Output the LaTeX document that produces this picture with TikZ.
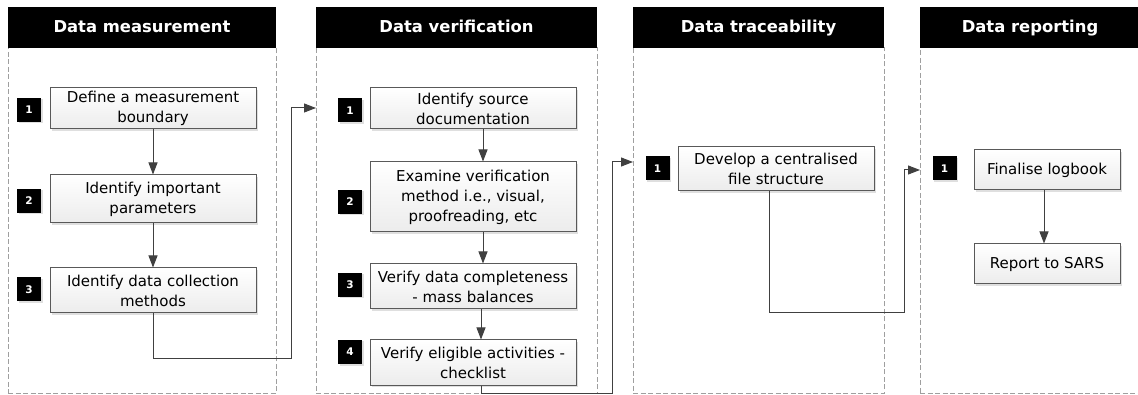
\documentclass[tikz,border=0pt]{standalone}
\usepackage{fontspec}
\setmainfont{DejaVu Sans}
\usetikzlibrary{arrows.meta,shadows}
\tikzset{
  lane/.style={draw=gray!75, line width=1pt, dash pattern=on 5pt off 2.5pt, minimum height=345pt, inner sep=0pt},
  head/.style={fill=black, text=white, font=\bfseries\fontsize{16.4}{20}\selectfont, minimum height=41pt, inner sep=0pt,
    text height=12pt, text depth=1pt},
  stepbox/.style={draw=black!65, line width=1pt, top color=white, bottom color=gray!15, align=center,
    font=\fontsize{15}{20}\selectfont, inner sep=0pt, minimum width=206pt,
    drop shadow={shadow xshift=2pt, shadow yshift=-2pt, opacity=0.25, fill=gray}},
  badge/.style={fill=black, text=white, font=\bfseries\fontsize{10.5}{10.5}\selectfont, minimum size=24pt, inner sep=0pt,
    drop shadow={shadow xshift=1.5pt, shadow yshift=-1.5pt, opacity=0.25, fill=gray}},
  conn/.style={draw=black!75, line width=1pt, -{Triangle[width=9pt,length=12pt]}}
}
\begin{document}
\begin{tikzpicture}[x=1pt,y=-1pt]
    \useasboundingbox (0,0) rectangle (1138,395);
    % lanes
    \node[lane, minimum width=268pt] (lA) at (142,220.5) {};
    \node[lane, minimum width=281pt] (lB) at (456.5,220.5) {};
    \node[lane, minimum width=251pt] (lC) at (758.5,220.5) {};
    \node[lane, minimum width=220pt] (lD) at (1030,220.5) {};
    \node[head, minimum width=268pt] (hA) at (142,27.5) {Data measurement};
    \node[head, minimum width=281pt] (hB) at (456.5,27.5) {Data verification};
    \node[head, minimum width=251pt] (hC) at (758.5,27.5) {Data traceability};
    \node[head, minimum width=220pt] (hD) at (1030,27.5) {Data reporting};
    %
    \node[stepbox, minimum height=41pt] (a1) at (153,108.5) {Define a measurement\\boundary};
    \node[stepbox, minimum height=48pt] (a2) at (153,199) {Identify important\\parameters};
    \node[stepbox, minimum height=45pt] (a3) at (153,290.5) {Identify data collection\\methods};
    \node[badge] (nA1) at (29,110) {1};
    \node[badge] (nA2) at (29,201) {2};
    \node[badge] (nA3) at (29,289.5) {3};
    %
    \node[stepbox, minimum height=41pt] (b1) at (473,108.5) {Identify source\\documentation};
    \node[stepbox, minimum height=70pt] (b2) at (473,197) {Examine verification\\method i.e., visual,\\proofreading, etc};
    \node[stepbox, minimum height=45pt] (b3) at (473,286.5) {Verify data completeness\\- mass balances};
    \node[stepbox, minimum height=45pt] (b4) at (473,362.5) {Verify eligible activities -\\checklist};
    \node[badge] (nB1) at (350,110.5) {1};
    \node[badge] (nB2) at (350,202) {2};
    \node[badge] (nB3) at (350,285) {3};
    \node[badge] (nB4) at (350,352) {4};
    %
    \node[stepbox, minimum width=196pt, minimum height=44pt] (c1) at (776,169) {Develop a centralised\\file structure};
    \node[badge] (nC1) at (657.5,168.5) {1};
    %
    \node[stepbox, minimum width=146pt, minimum height=40pt] (d1) at (1047,170) {Finalise logbook};
    \node[stepbox, minimum width=146pt, minimum height=40pt] (d2) at (1047,264) {Report to SARS};
    \node[badge] (nD1) at (944.5,168.5) {1};
    %
    \draw[conn] (a1) -- (a2);
    \draw[conn] (a2) -- (a3);
    \coordinate (tA) at (291,358);
    \coordinate (inB) at (316,108);
    \draw[conn] (a3.south) |- (tA) |- (inB);
    %
    \draw[conn] ([xshift=10pt]b1.south) -- ([xshift=10pt]b2.north);
    \draw[conn] ([xshift=10pt]b2.south) -- ([xshift=10pt]b3.north);
    \draw[conn] ([xshift=8pt]b3.south) -- ([xshift=8pt]b4.north);
    \coordinate (tB) at (612,393.5);
    \coordinate (inC) at (633,162);
    \draw[conn] ([xshift=8pt]b4.south) |- (tB) |- (inC);
    %
    \coordinate (tC) at (904,313);
    \coordinate (inD) at (920,170);
    \draw[conn] ([xshift=-7pt]c1.south) |- (tC) |- (inD);
    \draw[conn] ([xshift=-3pt]d1.south) -- ([xshift=-3pt]d2.north);
\end{tikzpicture}
\end{document}
